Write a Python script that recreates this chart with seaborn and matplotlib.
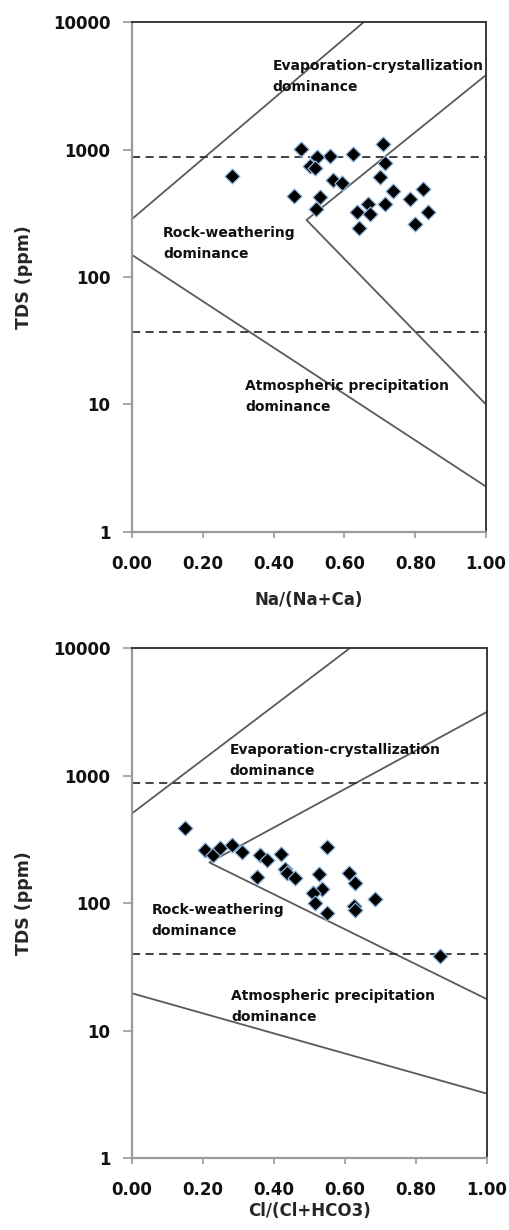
import numpy as np
import pandas as pd
import matplotlib
matplotlib.use("Agg")
import matplotlib.pyplot as plt
import seaborn as sns

# --- Gibbs diagram data: cations (top panel) ---
na_ratio = [0.282, 0.477, 0.708, 0.559, 0.625, 0.522, 0.503, 0.517, 0.715, 0.701,
            0.569, 0.594, 0.738, 0.821, 0.785, 0.459, 0.531, 0.520, 0.668, 0.715,
            0.637, 0.672, 0.835, 0.642, 0.799]
na_tds = [623, 1009, 1099, 895, 916, 879, 746, 720, 788, 605,
          577, 549, 475, 493, 406, 432, 422, 341, 372, 372,
          325, 312, 325, 241, 261]

# --- anions (bottom panel) ---
cl_ratio = [0.149, 0.206, 0.229, 0.248, 0.281, 0.309, 0.361, 0.379, 0.421, 0.548,
            0.351, 0.431, 0.436, 0.459, 0.528, 0.610, 0.628, 0.534, 0.509, 0.516,
            0.548, 0.624, 0.627, 0.685, 0.868]
cl_tds = [390, 261, 238, 268, 285, 253, 238, 217, 242, 277,
          159, 184, 171, 156, 169, 171, 143, 130, 119, 99.5,
          83, 95, 88, 107, 38.4]

# boundary lines (x, y) pairs
na_bound_outer_x = [0.0, 0.655]
na_bound_outer_y = [285, 10000]
na_bound_v_x = [1.0, 0.493, 1.0]
na_bound_v_y = [3840, 280, 10]
na_bound_low_x = [0.0, 1.0]
na_bound_low_y = [149, 2.27]
na_dash = [873, 37.2]

cl_bound_outer_x = [0.0, 0.614]
cl_bound_outer_y = [505, 10000]
cl_bound_v_x = [1.0, 0.218, 1.0]
cl_bound_v_y = [3160, 208, 17.6]
cl_bound_low_x = [0.0, 1.0]
cl_bound_low_y = [19.6, 3.2]
cl_dash = [869, 39.8]

y_ticks = [1, 10, 100, 1000, 10000]
x_ticks = [0.0, 0.2, 0.4, 0.6, 0.8, 1.0]

sns.set_theme(style="white")
plt.rcParams['font.family'] = ['DejaVu Sans']

LINE_C = "#5a5a5a"


def draw_panel(ax, xs, ys, outer, vee, low, dashes, xlabel, xlab_y, labels):
    ax.plot(outer[0], outer[1], color=LINE_C, lw=1.3)
    ax.plot(vee[0], vee[1], color=LINE_C, lw=1.3)
    ax.plot(low[0], low[1], color=LINE_C, lw=1.3)
    for d in dashes:
        ax.axhline(d, color="#333333", lw=1.3, ls=(0, (4.5, 3)))

    df = pd.DataFrame({"x": xs, "y": ys})
    sns.scatterplot(data=df, x="x", y="y", ax=ax, marker="D", s=58,
                    color="black", edgecolor="#8fb4dc", linewidth=0.9, zorder=5)

    ax.set_yscale("log")
    ax.set_xlim(0, 1)
    ax.set_ylim(1, 10000)
    ax.set_yticks(y_ticks)
    ax.set_yticklabels([str(t) for t in y_ticks])
    ax.minorticks_off()
    ax.set_xticks(x_ticks)
    ax.set_xticklabels([f"{t:.2f}" for t in x_ticks])
    ax.tick_params(axis="y", which="major", left=True, direction="out", length=6.5,
                   width=1.2, color="#999999", labelsize=12, pad=9)
    ax.tick_params(axis="x", which="major", bottom=True, direction="out", length=4.5,
                   width=1.2, color="#999999", labelsize=12, pad=12)
    for lab in ax.get_xticklabels() + ax.get_yticklabels():
        lab.set_fontweight("bold")
        lab.set_color("#111111")

    ax.set_xlabel(xlabel, fontsize=12, fontweight="bold")
    ax.xaxis.set_label_coords(0.5, xlab_y)
    ax.set_ylabel("TDS (ppm)", fontsize=12.5, fontweight="bold")
    ax.yaxis.set_label_coords(-0.28, 0.5)

    for sp in ["left", "bottom"]:
        ax.spines[sp].set_color("#9a9a9a")
        ax.spines[sp].set_linewidth(1.6)
    for sp in ["top", "right"]:
        ax.spines[sp].set_color("#3a3a3a")
        ax.spines[sp].set_linewidth(1.4)
        ax.spines[sp].set_visible(True)

    for (tx, ty, txt) in labels:
        ax.text(tx, ty, txt, fontsize=10, fontweight="bold", color="#111111",
                va="center", ha="left", linespacing=1.62, zorder=6)


fig = plt.figure(figsize=(5.09, 12.30), dpi=100)
ax1 = fig.add_axes([0.2593, 0.5675, 0.6955, 0.4146])
ax2 = fig.add_axes([0.2593, 0.0585, 0.6975, 0.4146])

draw_panel(ax1, na_ratio, na_tds,
           (na_bound_outer_x, na_bound_outer_y),
           (na_bound_v_x, na_bound_v_y),
           (na_bound_low_x, na_bound_low_y),
           na_dash, "Na/(Na+Ca)", -0.116,
           [(0.397, 3750, "Evaporation-crystallization\ndominance"),
            (0.088, 182, "Rock-weathering\ndominance"),
            (0.319, 11.5, "Atmospheric precipitation\ndominance")])

draw_panel(ax2, cl_ratio, cl_tds,
           (cl_bound_outer_x, cl_bound_outer_y),
           (cl_bound_v_x, cl_bound_v_y),
           (cl_bound_low_x, cl_bound_low_y),
           cl_dash, "Cl/(Cl+HCO3)", -0.086,
           [(0.274, 1320, "Evaporation-crystallization\ndominance"),
            (0.055, 73, "Rock-weathering\ndominance"),
            (0.279, 15.5, "Atmospheric precipitation\ndominance")])

fig.savefig("out.png", dpi=100, facecolor="white")
